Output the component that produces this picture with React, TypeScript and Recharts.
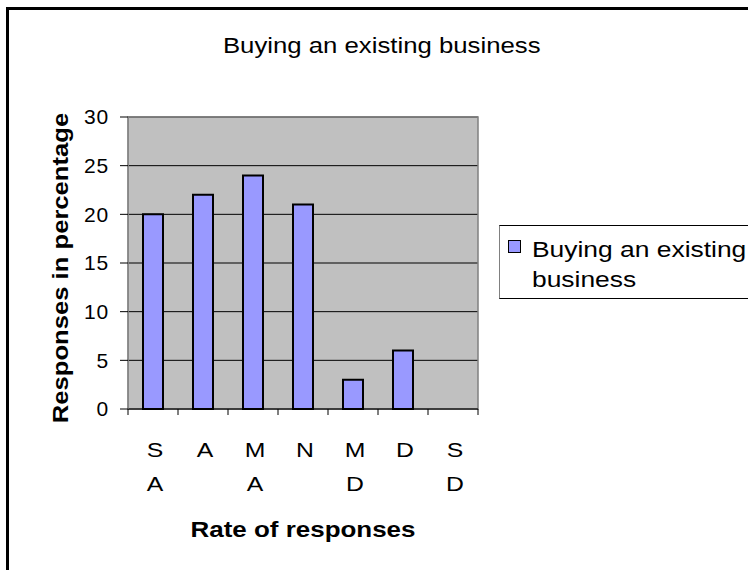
import { Bar, BarChart, CartesianGrid, Label, ReferenceArea, XAxis, YAxis } from 'recharts';

const categories = ['S A', 'A', 'M A', 'N', 'M D', 'D', 'S D'];
const responses = [20, 22, 24, 21, 3, 6, 0];
const yTicks = [0, 5, 10, 15, 20, 25, 30];
const seriesName = 'Buying an existing business';
const xTitle = 'Rate of responses';
const yTitle = 'Responses in percentage';

const data = categories.map((name, i) => ({ name, value: responses[i] }));

const font = '"Liberation Sans", Arial, sans-serif';
const W = 748;
const H = 570;
const axisWidth = 128;
const margin = { top: 117, right: 270, bottom: 0, left: 0 };
const half = (W - axisWidth - margin.right) / categories.length / 2;
// the original text is drawn a bit stretched sideways
const stretch = 1.18;

// x ticks sit on the category boundaries, labels stack one letter per line
function CatTick(props: any) {
  const { x, y, payload, index } = props;
  const lines = String(payload.value).split(' ');
  const ay = y - 8;
  return (
    <g>
      <line x1={x - half} x2={x - half} y1={ay} y2={ay + 6} stroke="#000" />
      {index === categories.length - 1 && (
        <line x1={x + half} x2={x + half} y1={ay} y2={ay + 6} stroke="#000" />
      )}
      <g transform={`translate(${x + 2},${y}) scale(${stretch},1)`}>
        <text x={0} y={0} textAnchor="middle" fontSize={21} fontFamily={font} fill="#000">
          {lines.map((l, i) => (
            <tspan key={i} x={0} dy={i === 0 ? 40 : 34}>{l}</tspan>
          ))}
        </text>
      </g>
    </g>
  );
}

function XTitle(props: any) {
  const vb = props.viewBox;
  const cx = vb.x + vb.width / 2;
  const by = vb.y + vb.height - 33;
  return (
    <text transform={`translate(${cx},${by}) scale(${stretch},1)`} textAnchor="middle" fontSize={22} fontWeight="bold" fontFamily={font} fill="#000">
      {xTitle}
    </text>
  );
}

function YTitle(props: any) {
  const vb = props.viewBox;
  const cy = vb.y + vb.height / 2 + 5;
  return (
    <text transform={`translate(68,${cy}) rotate(-90) scale(1.165,1)`} textAnchor="middle" fontSize={22} fontWeight="bold" fontFamily={font} fill="#000">
      {yTitle}
    </text>
  );
}

const cut = seriesName.lastIndexOf(' ');
const wide = (s: string, k: number) => (
  <span style={{ display: 'inline-block', transform: `scaleX(${k})`, transformOrigin: 'left center' }}>{s}</span>
);

export default function App() {
  return (
    <div style={{ position: 'absolute', left: 0, top: 0, width: W, height: H, overflow: 'hidden', background: '#fff', fontFamily: font }}>
      <div style={{ position: 'absolute', left: 6, top: 7, width: W, height: H, borderLeft: '3px solid #000', borderTop: '3px solid #000', boxSizing: 'border-box' }} />
      <div style={{ position: 'absolute', left: 0, top: 33, width: 764, textAlign: 'center', fontSize: 22, lineHeight: '25px', color: '#000' }}>
        <span style={{ display: 'inline-block', transform: 'scaleX(1.17)' }}>{seriesName}</span>
      </div>
      <div style={{ position: 'absolute', left: 0, top: 0 }}>
        <BarChart width={W} height={H} data={data} margin={margin} barCategoryGap="30%">
          <CartesianGrid vertical={false} stroke="#000" fill="#C0C0C0" fillOpacity={1} />
          <ReferenceArea y1={0} y2={30} fill="none" stroke="#808080" strokeWidth={1.5} ifOverflow="visible" />
          <XAxis
            dataKey="name"
            height={H - 409}
            stroke="#000"
            tickLine={false}
            interval={0}
            tick={<CatTick />}
          >
            <Label content={<XTitle />} />
          </XAxis>
          <YAxis
            width={axisWidth}
            domain={[0, 30]}
            ticks={yTicks}
            interval={0}
            tickSize={8}
            tickMargin={11}
            axisLine={{ stroke: '#808080' }}
            tickLine={{ stroke: '#000' }}
            tick={{ fontSize: 21, fill: '#000', fontFamily: font, style: { letterSpacing: 0.8 } }}
          >
            <Label content={<YTitle />} />
          </YAxis>
          <Bar dataKey="value" name={seriesName} fill="#9999FF" stroke="#000" strokeWidth={2} isAnimationActive={false} />
        </BarChart>
      </div>
      <div style={{ position: 'absolute', left: 499, top: 225, width: 260, height: 74, boxSizing: 'border-box', background: '#fff', borderTop: '1px solid #000', borderBottom: '1px solid #000', borderLeft: '1px solid #808080' }}>
        <div style={{ position: 'absolute', left: 8, top: 14, width: 11, height: 11, background: '#9999FF', border: '1.5px solid #000' }} />
        <div style={{ position: 'absolute', left: 32, top: 9, width: 220, whiteSpace: 'nowrap', fontSize: 22, lineHeight: '30px', color: '#000' }}>
          {wide(seriesName.slice(0, cut), 1.2)}
          <br />
          {wide(seriesName.slice(cut + 1), 1.2)}
        </div>
      </div>
    </div>
  );
}
